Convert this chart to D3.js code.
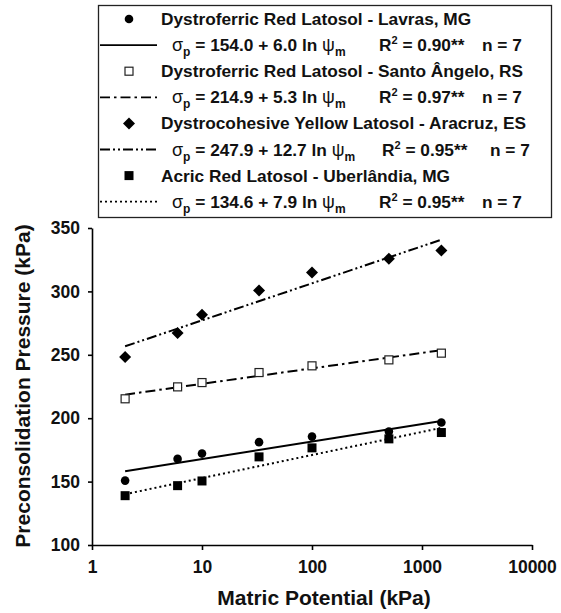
<!DOCTYPE html>
<html>
<head>
<meta charset="utf-8">
<script src="https://cdn.jsdelivr.net/npm/d3@7"></script>
<style>
  html, body { margin: 0; padding: 0; background: #fff; }
  svg { display: block; font-family: "Liberation Sans", Arial, Helvetica, sans-serif; font-weight: bold; }
</style>
</head>
<body>
<svg id="chart" width="561" height="613"></svg>
<script>
// ---- data ----
const potentials = [2, 6, 10, 33, 100, 500, 1500];
const lavras      = [150.8, 167.9, 172.1, 181.1, 185.5, 189.5, 196.6];
const santoAngelo = [215.3, 224.7, 228.1, 236.0, 241.3, 246.0, 251.3];
const aracruz     = [248.2, 267.1, 281.6, 300.8, 315.0, 325.8, 332.3];
const uberlandia  = [138.9, 146.8, 150.5, 169.5, 176.6, 183.7, 188.7];

const seriesNames = [
  "Dystroferric Red Latosol - Lavras, MG",
  "Dystroferric Red Latosol - Santo Ângelo, RS",
  "Dystrocohesive Yellow Latosol - Aracruz, ES",
  "Acric Red Latosol - Uberlândia, MG"
];
const intercepts = [154.0, 214.9, 247.9, 134.6];
const slopes     = [6.0, 5.3, 12.7, 7.9];
const r2Labels   = ["0.90**", "0.97**", "0.95**", "0.95**"];
const nLabels    = ["7", "7", "7", "7"];

const xTicks = [1, 10, 100, 1000, 10000];
const yTicks = [100, 150, 200, 250, 300, 350];
const xTitle = "Matric Potential (kPa)";
const yTitle = "Preconsolidation Pressure (kPa)";

// ---- styles ----
const markers = ["circle", "openSquare", "diamond", "square"];
const dashes  = [null, "10,4,2.5,4", "10,3,2,3,2,3", "2,3"];
const seriesData = [lavras, santoAngelo, aracruz, uberlandia];

const svg = d3.select("#chart");
const x = d3.scaleLog().domain([1, 10000]).range([92, 532]);
const y = d3.scaleLinear().domain([100, 350]).range([545, 228]);

// axes
const xAxis = d3.axisBottom(x).tickValues(xTicks).tickFormat(d3.format("d")).tickSize(5).tickPadding(11).tickSizeOuter(0);
const yAxis = d3.axisLeft(y).tickValues(yTicks).tickSize(4).tickPadding(8).tickSizeOuter(0);

const gx = svg.append("g").attr("transform", "translate(0,545)").call(xAxis);
const gy = svg.append("g").attr("transform", "translate(92,0)").call(yAxis);
[gx, gy].forEach(g => {
  g.selectAll("path").attr("stroke", "#000").attr("stroke-width", 1.6);
  g.selectAll("line").attr("stroke", "#000").attr("stroke-width", 1.6);
  g.selectAll("text").attr("fill", "#111").style("font-size", "17.5px").style("font-weight", "bold")
    .style("font-family", '"Liberation Sans", Arial, sans-serif');
});

svg.append("text").attr("x", 324).attr("y", 605).attr("text-anchor", "middle")
  .style("font-size", "21px").attr("fill", "#111").text(xTitle);
svg.append("text").attr("transform", "translate(30,386) rotate(-90)").attr("text-anchor", "middle")
  .style("font-size", "21px").attr("fill", "#111").text(yTitle);

// marker drawing
function drawMarker(g, type, cx, cy) {
  if (type === "circle") {
    g.append("circle").attr("cx", cx).attr("cy", cy).attr("r", 4.3).attr("fill", "#000");
  } else if (type === "openSquare") {
    g.append("rect").attr("x", cx - 4).attr("y", cy - 4).attr("width", 8).attr("height", 8)
      .attr("fill", "#fff").attr("stroke", "#222").attr("stroke-width", 1.2);
  } else if (type === "diamond") {
    const s = 6;
    g.append("path").attr("d", `M${cx},${cy - s}L${cx + s},${cy}L${cx},${cy + s}L${cx - s},${cy}Z`).attr("fill", "#000");
  } else {
    g.append("rect").attr("x", cx - 4.5).attr("y", cy - 4.5).attr("width", 9).attr("height", 9).attr("fill", "#000");
  }
}

// regression lines
const xLineMin = potentials[0], xLineMax = potentials[potentials.length - 1];
const fitLine = d3.line().x(d => x(d[0])).y(d => y(d[1]));
intercepts.forEach((a, i) => {
  const pts = [xLineMin, xLineMax].map(p => [p, a + slopes[i] * Math.log(p)]);
  svg.append("path").attr("d", fitLine(pts)).attr("fill", "none").attr("stroke", "#000")
    .attr("stroke-width", 2).attr("stroke-dasharray", dashes[i]);
});

// points
seriesData.forEach((vals, i) => {
  const g = svg.append("g");
  vals.forEach((v, j) => drawMarker(g, markers[i], x(potentials[j]), y(v)));
});

// legend
const lg = svg.append("g");
lg.append("rect").attr("x", 98.5).attr("y", 5.5).attr("width", 453).attr("height", 212)
  .attr("fill", "#fff").attr("stroke", "#222").attr("stroke-width", 1.3);
const rowStep = 26.1;
seriesNames.forEach((name, i) => {
  const cy1 = 19 + rowStep * 2 * i;
  const cy2 = cy1 + rowStep;
  drawMarker(lg, markers[i], 129, cy1);
  lg.append("text").attr("x", 161).attr("y", cy1 + 6).style("font-size", "17.3px").attr("fill", "#111").text(name);
  lg.append("line").attr("x1", 100).attr("x2", 157).attr("y1", cy2).attr("y2", cy2)
    .attr("stroke", "#000").attr("stroke-width", 1.8).attr("stroke-dasharray", dashes[i]);
  const t = lg.append("text").attr("x", 172).attr("y", cy2 + 6).style("font-size", "17.3px").attr("fill", "#111");
  t.append("tspan").text("σ").style("font-weight", "normal").style("font-size", "18px");
  t.append("tspan").text("p").attr("dy", 5).style("font-size", "12px");
  t.append("tspan").text(` = ${intercepts[i].toFixed(1)} + ${slopes[i].toFixed(1)} ln `).attr("dy", -5);
  t.append("tspan").text("ψ").style("font-weight", "normal").style("font-size", "18px");
  t.append("tspan").text("m").attr("dy", 5).style("font-size", "12px");
  const rx = i === 2 ? 382 : 379;
  const r = lg.append("text").attr("x", rx).attr("y", cy2 + 6).style("font-size", "17.3px").attr("fill", "#111");
  r.append("tspan").text("R");
  r.append("tspan").text("2").attr("dy", -7).style("font-size", "11px");
  r.append("tspan").text(` = ${r2Labels[i]}`).attr("dy", 7);
  const nx = i === 2 ? 490 : 482;
  lg.append("text").attr("x", nx).attr("y", cy2 + 6).style("font-size", "17.3px").attr("fill", "#111").text(`n = ${nLabels[i]}`);
});
</script>
</body>
</html>
